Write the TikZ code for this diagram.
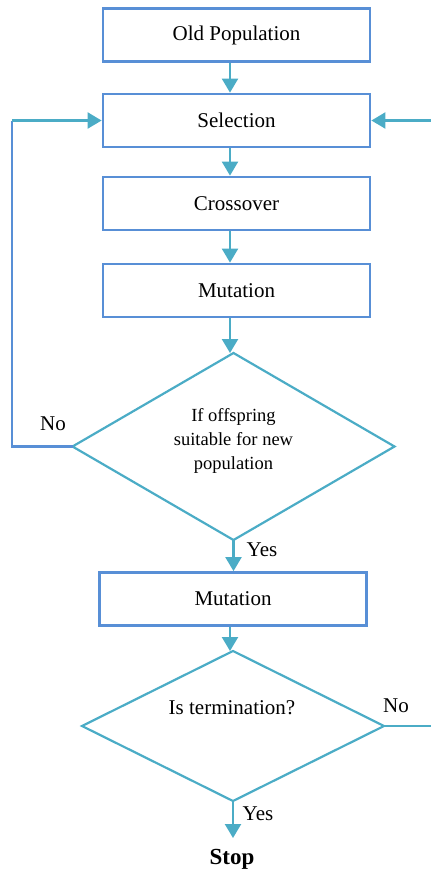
\documentclass[tikz,border=0pt]{standalone}
\usepackage{fontspec}
\setmainfont{Liberation Serif}
\usetikzlibrary{arrows.meta,shapes.geometric}
\definecolor{boxblue}{RGB}{88,143,214}
\definecolor{arrcyan}{RGB}{75,172,198}
\begin{document}
\begin{tikzpicture}[x=1pt,y=-1pt,
  stepbox/.style={draw=boxblue,line width=2.8pt,rectangle,minimum width=267pt,minimum height=53pt,inner sep=0pt,font=\fontsize{21}{25}\selectfont},
  decis/.style={draw=arrcyan,line width=2.2pt,diamond,inner sep=0pt,outer sep=0pt},
  arr/.style={draw=arrcyan,line width=2.3pt,-{Triangle[width=16pt,length=14pt]}},
  bline/.style={draw=boxblue,line width=2.3pt},
  cline/.style={draw=arrcyan,line width=2.3pt},
  lbl/.style={font=\fontsize{21}{25}\selectfont,inner sep=0pt}]
\useasboundingbox (0,0) rectangle (431,871);
\coordinate (ax) at (230,0);
\coordinate (lx) at (12,0);
\coordinate (rx) at (431,0);
\node[stepbox] (b1) at (236.5,35) {Old Population};
\node[stepbox] (b2) at (236.5,120.5) {Selection};
\node[stepbox] (b3) at (236.5,203.5) {Crossover};
\node[stepbox] (b4) at (236.5,290.5) {Mutation};
\node[decis,minimum width=322pt,minimum height=187pt] (d1) at (233.5,446.5) {};
\node[align=center,inner sep=0pt,font=\fontsize{18.5}{24}\selectfont] (t1) at (233.5,441) {If offspring\\suitable for new\\population};
\node[stepbox] (b5) at (233,599) {Mutation};
\node[decis,minimum width=302pt,minimum height=150pt] (d2) at (233,726) {};
\node[lbl] (t2) at (232,708) {Is termination?};
\node[inner sep=0pt,font=\bfseries\fontsize{23}{27}\selectfont] (stop) at (232,859) {Stop};
\coordinate (stopin) at (233,838);
\draw[arr] (b1.south -| ax) -- (b2.north -| ax);
\draw[arr] (b2.south -| ax) -- (b3.north -| ax);
\draw[arr] (b3.south -| ax) -- (b4.north -| ax);
\draw[arr] (b4.south -| ax) -- (d1.north -| ax);
\draw[arr] (d1.south) -- (b5.north -| d1.south);
\draw[arr] (b5.south -| ax) -- (d2.north -| ax);
\draw[arr] (d2.south) -- (stopin);
\coordinate (lc) at (d1.west -| lx);
\draw[bline] (d1.west) -- (lc) -- (lc |- b2.west);
\draw[arr] (lc |- b2.west) -- (b2.west);
\draw[cline] (d2.east) -- (d2.east -| rx);
\draw[arr] (b2.east -| rx) -- (b2.east);
\node[lbl] (no1) at (53,424) {No};
\node[lbl] (yes1) at (262,550) {Yes};
\node[lbl] (no2) at (396,706) {No};
\node[lbl] (yes2) at (258,814) {Yes};
\end{tikzpicture}
\end{document}
